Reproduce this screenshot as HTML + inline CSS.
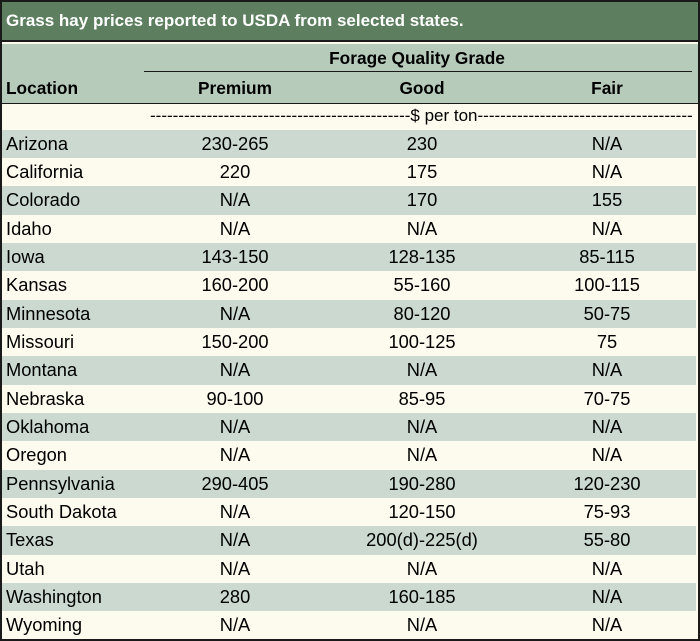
<!DOCTYPE html>
<html><head><style>
body{margin:0;background:#fff;}
#t{position:absolute;left:0;top:0;width:696px;height:637px;border:2px solid #1a1a1a;background:#fdfaee;font-family:"Liberation Sans",sans-serif;font-size:18.3px;color:#000;overflow:hidden}
.title{position:absolute;left:0;top:0;width:696px;height:40px;background:#5d7f5f;color:#fff;font-weight:bold;font-size:17px;line-height:38px;padding-left:4px;box-sizing:border-box;border-bottom:2px solid #1a1a1a}
.hdr{position:absolute;left:0;top:42px;width:696px;height:59px;background:#b7cbbb;border-bottom:1px solid #1a1a1a;font-size:17.3px}
.row{position:absolute;left:0;width:694px;height:28.4px;line-height:28.4px}
.g{background:#cbd9d1}
.c{position:absolute;text-align:center;width:180px;}
.l{position:absolute;left:4px}
</style></head><body><div id="t">
<div class="hdr">
<div style="position:absolute;left:140px;width:550px;top:4px;text-align:center;font-weight:bold">Forage Quality Grade</div>
<div style="position:absolute;left:142px;width:548px;top:27px;border-top:1.5px solid #1a1a1a"></div>
<div style="position:absolute;left:4px;top:34px;font-weight:bold">Location</div>
<div class="c" style="left:143px;top:34px;font-weight:bold">Premium</div>
<div class="c" style="left:330px;top:34px;font-weight:bold">Good</div>
<div class="c" style="left:515px;top:34px;font-weight:bold">Fair</div>
</div>
<div class="title">Grass hay prices reported to USDA from selected states.</div>
<div class="row" style="top:100px;left:148px;width:542px;text-align:center;white-space:nowrap;overflow:hidden;font-size:17px">----------------------------------------------$ per ton-----------------------------------------------</div>
<div id="rows"></div>
</div>
<script>
var d=[["Arizona","230-265","230","N/A"],["California","220","175","N/A"],["Colorado","N/A","170","155"],["Idaho","N/A","N/A","N/A"],["Iowa","143-150","128-135","85-115"],["Kansas","160-200","55-160","100-115"],["Minnesota","N/A","80-120","50-75"],["Missouri","150-200","100-125","75"],["Montana","N/A","N/A","N/A"],["Nebraska","90-100","85-95","70-75"],["Oklahoma","N/A","N/A","N/A"],["Oregon","N/A","N/A","N/A"],["Pennsylvania","290-405","190-280","120-230"],["South Dakota","N/A","120-150","75-93"],["Texas","N/A","200(d)-225(d)","55-80"],["Utah","N/A","N/A","N/A"],["Washington","280","160-185","N/A"],["Wyoming","N/A","N/A","N/A"]];
var h="";for(var i=0;i<d.length;i++){var r=d[i];h+='<div class="row'+(i%2?'':' g')+'" style="top:'+(127.5+i*28.35)+'px"><span class="l">'+r[0]+'</span><span class="c" style="left:143px">'+r[1]+'</span><span class="c" style="left:330px">'+r[2]+'</span><span class="c" style="left:515px">'+r[3]+'</span></div>';}
document.getElementById("rows").innerHTML=h;
</script>
</body></html>
